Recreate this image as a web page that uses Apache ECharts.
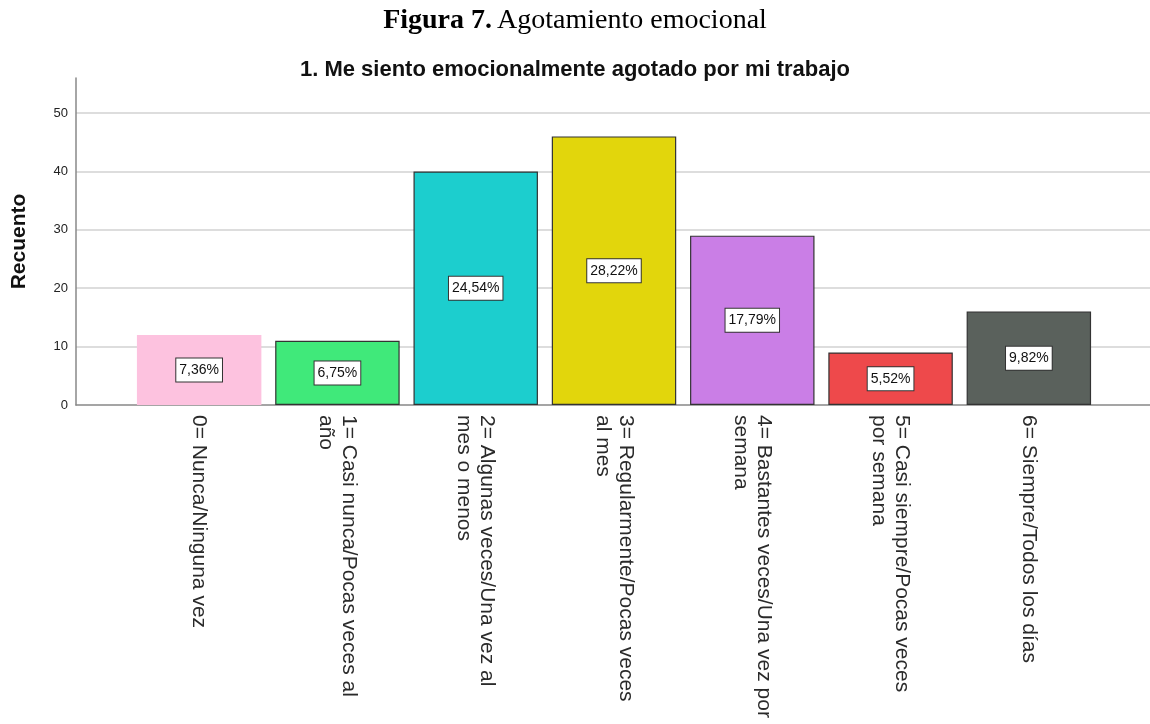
<!DOCTYPE html>
<html>
<head>
<meta charset="utf-8">
<script src="https://cdn.jsdelivr.net/npm/echarts@6/dist/echarts.min.js"></script>
<style>
  html, body { margin: 0; padding: 0; background: #fff; }
  #chart { width: 1150px; height: 724px; }
</style>
</head>
<body>
<div id="chart"></div>
<script>
const categories = [
  '0= Nunca/Ninguna vez',
  '1= Casi nunca/Pocas veces al\naño',
  '2= Algunas veces/Una vez al\nmes o menos',
  '3= Regularmente/Pocas veces\nal mes',
  '4= Bastantes veces/Una vez por\nsemana',
  '5= Casi siempre/Pocas veces\npor semana',
  '6= Siempre/Todos los días',
];
const counts = [12, 11, 40, 46, 29, 9, 16];
const percentLabels = ['7,36%', '6,75%', '24,54%', '28,22%', '17,79%', '5,52%', '9,82%'];
const barColors = ['#fdc2df', '#40e97a', '#1ccece', '#e2d60c', '#ca7ee6', '#ee494b', '#5a615c'];
const yTicks = [0, 10, 20, 30, 40, 50];

const chart = echarts.init(document.getElementById('chart'));

const option = {
  animation: false,
  title: [
    {
      text: '{b|Figura 7.} {n|Agotamiento emocional}',
      left: 'center',
      top: 2,
      textStyle: {
        rich: {
          b: { fontFamily: 'Liberation Serif', fontSize: 28, fontWeight: 'bold', color: '#000' },
          n: { fontFamily: 'Liberation Serif', fontSize: 28, fontWeight: 'normal', color: '#000' },
        },
      },
    },
    {
      text: '1. Me siento emocionalmente agotado por mi trabajo',
      left: 'center',
      top: 54,
      textStyle: { fontFamily: 'Liberation Sans', fontSize: 22, fontWeight: 'bold', color: '#111' },
    },
  ],
  grid: [
    // background grid: y axis, grid lines, full-width x axis line
    { left: 76, right: 0, top: 78, bottom: 319 },
    // bar grid
    { left: 130, right: 52, top: 78, bottom: 319 },
  ],
  xAxis: [
    {
      gridIndex: 0,
      type: 'value',
      min: 0,
      max: 1,
      axisLine: { show: true, onZero: false, lineStyle: { color: '#888', width: 1.5 } },
      axisTick: { show: false },
      axisLabel: { show: false },
      splitLine: { show: false },
    },
    {
      gridIndex: 1,
      type: 'category',
      data: categories,
      axisLine: { show: false },
      axisTick: { show: false },
      axisLabel: {
        rotate: -90,
        margin: 10,
        interval: 0,
        padding: [0, 0, 12, 0],
        fontFamily: 'Liberation Sans',
        fontSize: 21,
        lineHeight: 23,
        color: '#2a2a2a',
      },
    },
  ],
  yAxis: [
    {
      gridIndex: 0,
      type: 'value',
      min: 0,
      max: 56,
      interval: 10,
      name: 'Recuento',
      nameLocation: 'middle',
      nameGap: 46,
      nameTextStyle: { fontFamily: 'Liberation Sans', fontSize: 21, fontWeight: 'bold', color: '#111' },
      axisLine: { show: true, lineStyle: { color: '#888', width: 1.5 } },
      axisTick: { show: false },
      axisLabel: {
        fontFamily: 'Liberation Sans',
        fontSize: 13,
        color: '#222',
        margin: 8,
        formatter: v => (yTicks.includes(v) ? String(v) : ''),
      },
      splitLine: { show: true, showMaxLine: false, showMinLine: false, lineStyle: { color: '#d2d2d2', width: 1.5 } },
    },
    {
      gridIndex: 1,
      type: 'value',
      min: 0,
      max: 56,
      show: false,
      splitLine: { show: false },
    },
  ],
  series: [
    {
      type: 'bar',
      xAxisIndex: 1,
      yAxisIndex: 1,
      barCategoryGap: '10%',
      data: counts.map((v, i) => ({
        value: v,
        itemStyle: {
          color: barColors[i],
          borderColor: i === 0 ? barColors[i] : '#333',
          borderWidth: i === 0 ? 0 : 1.2,
        },
      })),
      label: {
        show: true,
        position: 'inside',
        formatter: p => percentLabels[p.dataIndex],
        fontFamily: 'Liberation Sans',
        fontSize: 14,
        color: '#111',
        backgroundColor: '#fff',
        borderColor: '#333',
        borderWidth: 1,
        padding: [5, 3, 4, 3],
      },
    },
  ],
};

chart.setOption(option);
</script>
</body>
</html>
